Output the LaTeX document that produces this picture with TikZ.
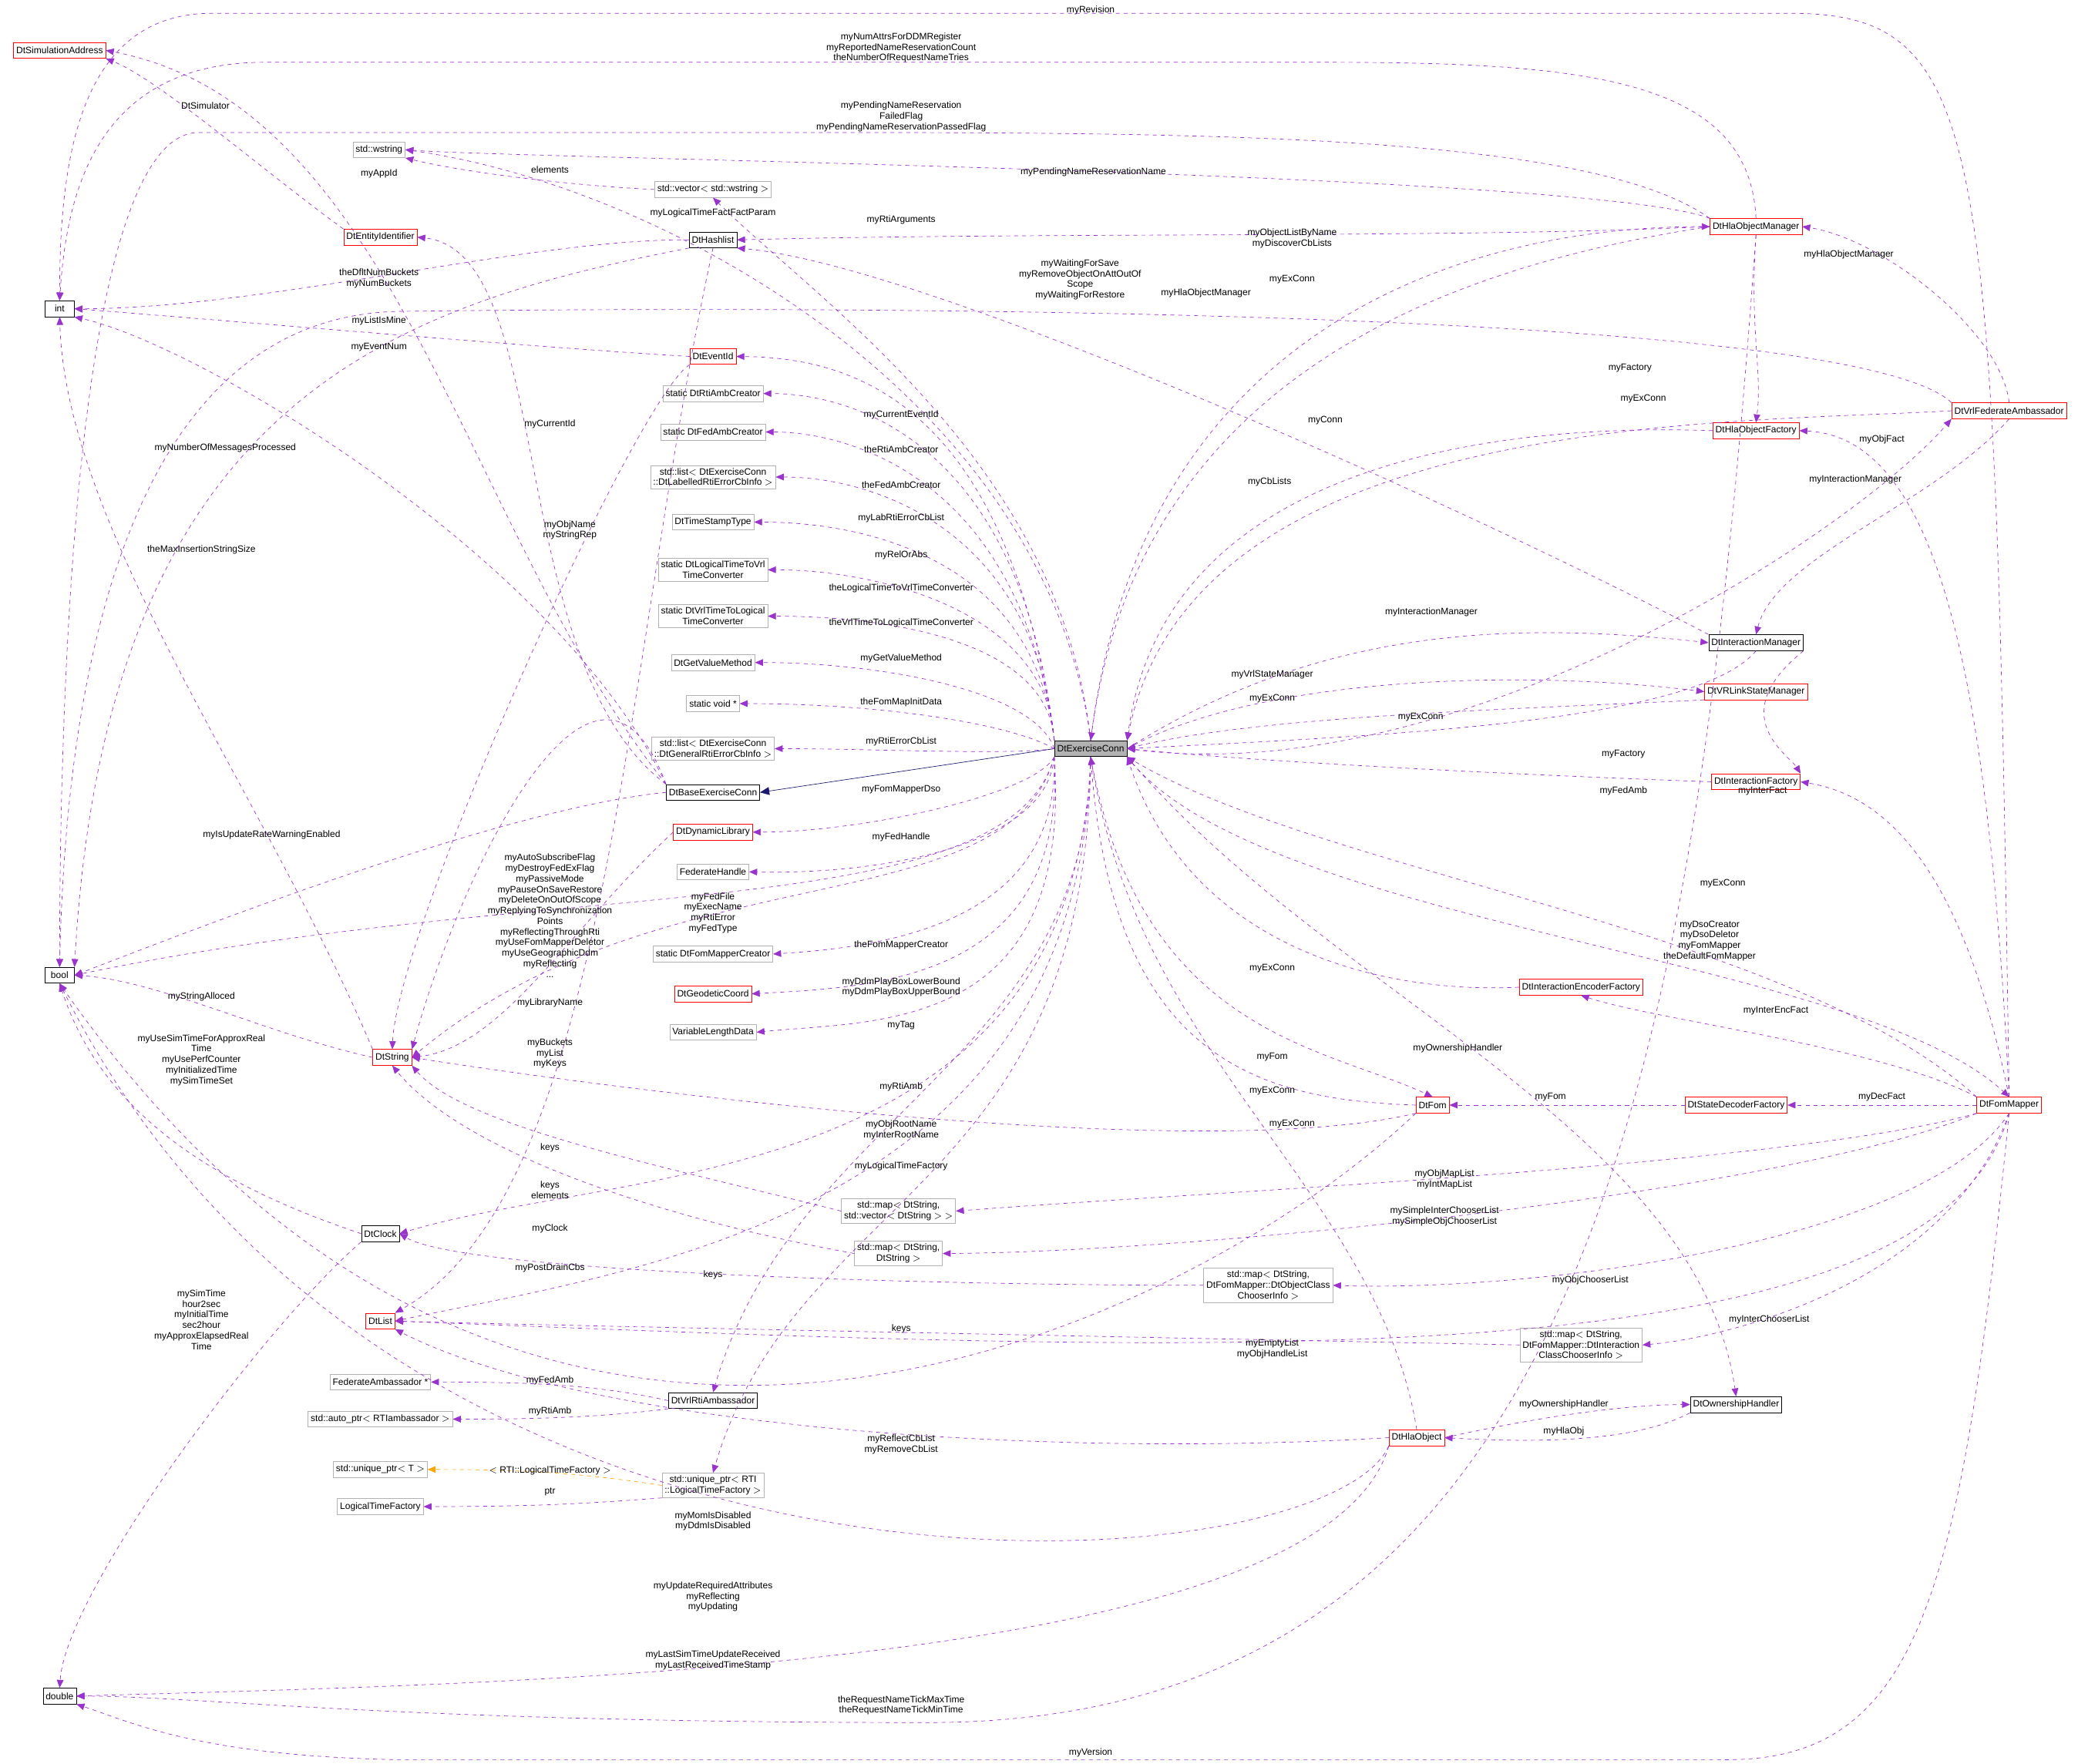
\documentclass[tikz,border=0pt]{standalone}
\usepackage{fontspec}
\setmainfont{Liberation Sans}
\usetikzlibrary{arrows.meta}
\definecolor{depc}{HTML}{9A32CD}
\definecolor{inhc}{HTML}{191970}
\definecolor{tplc}{HTML}{FFA500}
\newcommand{\dfont}{\fontsize{7}{8}\selectfont}
\begin{document}
\begin{tikzpicture}[x=1pt,y=-1pt,
  cls/.style={draw=black, inner sep=2pt, minimum height=12pt, font=\dfont, align=center, fill=white},
  redcls/.style={cls, draw=red},
  grycls/.style={cls, draw=gray!60},
  lbl/.style={font=\dfont, align=center, inner sep=0.5pt},
  use/.style={draw=depc, dashed, -{Triangle[length=6pt,width=5pt]}},
  inh/.style={draw=inhc, -{Triangle[length=7pt,width=6pt]}},
  tpl/.style={draw=tplc, dashed, -{Triangle[length=6pt,width=5pt]}}]
\useasboundingbox (0,0) rectangle (1568,1331);

% classes
\node[cls, fill=gray!60] (X) at (823,565) {DtExerciseConn};
\node[redcls] (simaddr) at (45,38) {DtSimulationAddress};
\node[grycls] (wstr) at (286,113) {std::wstring};
\node[grycls] (vec) at (538,143) {std::vector$<$ std::wstring $>$};
\node[redcls] (eid) at (287,179) {DtEntityIdentifier};
\node[cls] (hash) at (538,181) {DtHashlist};
\node[cls, minimum width=22pt] (int) at (45,233) {int};
\node[redcls] (evid) at (538,269) {DtEventId};
\node[grycls] (rac) at (538,297) {static DtRtiAmbCreator};
\node[grycls] (fac) at (538,326) {static DtFedAmbCreator};
\node[grycls] (llist) at (538,360) {std::list$<$ DtExerciseConn\\::DtLabelledRtiErrorCbInfo $>$};
\node[grycls] (tst) at (538,394) {DtTimeStampType};
\node[grycls] (l2v) at (538,430) {static DtLogicalTimeToVrl\\TimeConverter};
\node[grycls] (v2l) at (538,465) {static DtVrlTimeToLogical\\TimeConverter};
\node[grycls] (gvm) at (538,500) {DtGetValueMethod};
\node[grycls] (svoid) at (538,531) {static void *};
\node[grycls] (glist) at (538,565) {std::list$<$ DtExerciseConn\\::DtGeneralRtiErrorCbInfo $>$};
\node[cls] (bec) at (538,598) {DtBaseExerciseConn};
\node[redcls] (dyn) at (538,628) {DtDynamicLibrary};
\node[grycls] (fh) at (538,658) {FederateHandle};
\node[grycls] (fmc) at (538,720) {static DtFomMapperCreator};
\node[redcls] (geo) at (538,750) {DtGeodeticCoord};
\node[grycls] (vld) at (538,779) {VariableLengthData};
\node[redcls] (hom) at (1325,171) {DtHlaObjectManager};
\node[redcls] (vfa) at (1516,310) {DtVrlFederateAmbassador};
\node[redcls] (hof) at (1325,325) {DtHlaObjectFactory};
\node[cls] (im) at (1325,485) {DtInteractionManager};
\node[redcls] (vsm) at (1325,522) {DtVRLinkStateManager};
\node[redcls] (ifac) at (1325,590) {DtInteractionFactory};
\node[redcls] (ief) at (1193,745) {DtInteractionEncoderFactory};
\node[redcls] (fom) at (1081,834) {DtFom};
\node[redcls] (sdf) at (1310,834) {DtStateDecoderFactory};
\node[redcls] (fm) at (1516,834) {DtFomMapper};
\node[cls, minimum width=22pt] (bool) at (45,736) {bool};
\node[redcls] (str) at (296,798) {DtString};
\node[grycls] (mvec) at (678,914) {std::map$<$ DtString,\\std::vector$<$ DtString $>$ $>$};
\node[grycls] (mstr) at (678,946) {std::map$<$ DtString,\\DtString $>$};
\node[cls] (clk) at (287,931) {DtClock};
\node[grycls] (mobj) at (957,970) {std::map$<$ DtString,\\DtFomMapper::DtObjectClass\\ChooserInfo $>$};
\node[redcls] (lst) at (287,997) {DtList};
\node[grycls] (mint) at (1193,1015) {std::map$<$ DtString,\\DtFomMapper::DtInteraction\\ClassChooserInfo $>$};
\node[grycls] (fedamb) at (287,1043) {FederateAmbassador *};
\node[cls] (vra) at (538,1057) {DtVrlRtiAmbassador};
\node[grycls] (apt) at (287,1071) {std::auto\_ptr$<$ RTIambassador $>$};
\node[cls] (own) at (1310,1060) {DtOwnershipHandler};
\node[redcls] (hlo) at (1069,1085) {DtHlaObject};
\node[grycls] (upt) at (287,1109) {std::unique\_ptr$<$ T $>$};
\node[grycls] (uprti) at (538,1121) {std::unique\_ptr$<$ RTI\\::LogicalTimeFactory $>$};
\node[grycls] (ltf) at (287,1137) {LogicalTimeFactory};
\node[cls] (dbl) at (45,1280) {double};

% inheritance
\draw[inh] (X.west) -- (bec.east);

% DtExerciseConn towards the left column
\draw[use] (X.north west) .. controls (760,300) and (640,270) .. (evid.east);
\draw[use] (X.north west) .. controls (770,330) and (640,297) .. (rac.east);
\draw[use] (X.north west) .. controls (770,360) and (640,326) .. (fac.east);
\draw[use] (X.north west) .. controls (780,400) and (660,360) .. (llist.east);
\draw[use] (X.north west) .. controls (780,420) and (650,394) .. (tst.east);
\draw[use] (X.north west) .. controls (790,460) and (660,430) .. (l2v.east);
\draw[use] (X.north west) .. controls (790,480) and (660,465) .. (v2l.east);
\draw[use] (X.west) .. controls (780,520) and (660,500) .. (gvm.east);
\draw[use] (X.west) .. controls (760,545) and (660,531) .. (svoid.east);
\draw[use] (X.west) .. controls (760,570) and (660,565) .. (glist.east);
\draw[use] (X.south west) .. controls (780,600) and (650,628) .. (dyn.east);
\draw[use] (X.south west) .. controls (790,640) and (660,660) .. (fh.east);
\draw[use] (X.south west) .. controls (800,700) and (660,715) .. (fmc.east);
\draw[use] (X.south west) .. controls (805,740) and (660,745) .. (geo.east);
\draw[use] (X.south west) .. controls (810,780) and (660,770) .. (vld.east);
\draw[use] (X.north) .. controls (800,350) and (620,230) .. (vec.south);
\draw[use] (X.north) .. controls (790,300) and (500,140) .. (wstr.east);
\draw[use] (X.south west) .. controls (760,700) and (500,640) .. (str.east);
\draw[use] (X.south west) .. controls (760,700) and (420,660) .. (bool.east);
\draw[use] (X.south) .. controls (810,900) and (470,880) .. (clk.east);
\draw[use] (X.south) .. controls (815,920) and (470,960) .. (lst.east);
\draw[use] (X.south) .. controls (820,800) and (600,840) .. (vra.north);
\draw[use] (X.south) .. controls (820,900) and (600,900) .. (uprti.north);

% DtExerciseConn and the right side
\draw[use] (X.north) .. controls (860,250) and (1100,171) .. (hom.west);
\draw[use] (hom.west) .. controls (1100,200) and (860,280) .. (X.north);
\draw[use] (hof.west) .. controls (1150,320) and (880,340) .. (X.north east);
\draw[use] (vfa.west) .. controls (1300,320) and (900,310) .. (X.north east);
\draw[use] (X.east) .. controls (1000,470) and (1150,470) .. (im.west);
\draw[use] (X.east) .. controls (950,510) and (1150,505) .. (vsm.west);
\draw[use] (vsm.south west) .. controls (1150,535) and (950,540) .. (X.east);
\draw[use] (im.south) .. controls (1280,545) and (1050,555) .. (X.east);
\draw[use] (ifac.west) .. controls (1150,585) and (950,575) .. (X.east);
\draw[use] (X.east) .. controls (1100,600) and (1400,400) .. (vfa.south west);
\draw[use] (fm.north west) .. controls (1350,700) and (1000,660) .. (X.south east);
\draw[use] (X.south east) .. controls (950,700) and (1400,720) .. (fm.north);
\draw[use] (ief.west) .. controls (1050,750) and (900,720) .. (X.south east);
\draw[use] (X.south) .. controls (860,780) and (1000,790) .. (fom.north);
\draw[use] (fom.west) .. controls (950,830) and (840,800) .. (X.south);
\draw[use] (X.south east) .. controls (1000,750) and (1280,850) .. (own.north);
\draw[use] (hlo.north) .. controls (1040,900) and (860,800) .. (X.south);

% right side among themselves
\draw[use] (hom.south) .. controls (1320,250) and (1330,280) .. (hof.north);
\draw[use] (vfa.north) .. controls (1510,250) and (1420,180) .. (hom.east);
\draw[use] (vfa.south) .. controls (1460,380) and (1340,420) .. (im.north);
\draw[use] (fm.north) .. controls (1500,500) and (1460,330) .. (hof.east);
\draw[use] (im.south east) .. controls (1300,540) and (1350,570) .. (ifac.north east);
\draw[use] (fm.north) .. controls (1480,650) and (1420,600) .. (ifac.east);
\draw[use] (fm.north west) .. controls (1420,790) and (1250,770) .. (ief.south);
\draw[use] (fm.west) -- (sdf.east);
\draw[use] (sdf.west) -- (fom.east);
\draw[use] (hlo.east) .. controls (1180,1065) and (1240,1060) .. (own.west);
\draw[use] (own.south west) .. controls (1240,1085) and (1180,1090) .. (hlo.east);
\draw[use] (fm.south west) .. controls (1350,880) and (900,900) .. (mvec.east);
\draw[use] (fm.south west) .. controls (1350,900) and (900,945) .. (mstr.east);
\draw[use] (fm.south) .. controls (1450,940) and (1150,975) .. (mobj.east);
\draw[use] (fm.south) .. controls (1470,970) and (1300,1010) .. (mint.east);
\draw[use] (fm.south) .. controls (1460,1050) and (900,1020) .. (lst.east);

% into the left columns
\draw[use] (fm.north) .. controls (1505,100) and (1500,10) .. (1350,10) -- (160,10) .. controls (60,10) and (45,120) .. (int.north);
\draw[use] (hom.north) .. controls (1320,60) and (1200,47) .. (1000,47) -- (200,47) .. controls (70,47) and (50,150) .. (int.north);
\draw[use] (hom.north west) .. controls (1200,100) and (900,100) .. (600,100) -- (150,100) .. controls (60,100) and (45,500) .. (bool.north);
\draw[use] (hom.north west) .. controls (1200,130) and (400,120) .. (wstr.east);
\draw[use] (hom.west) .. controls (1100,180) and (800,175) .. (hash.east);
\draw[use] (vfa.north west) .. controls (1400,235) and (700,230) .. (300,235) .. controls (100,240) and (50,500) .. (bool.north);
\draw[use] (im.north west) .. controls (1100,380) and (700,200) .. (hash.south east);
\draw[use] (vec.west) .. controls (430,140) and (350,130) .. (wstr.south east);
\draw[use] (hash.west) .. controls (400,180) and (200,233) .. (int.east);
\draw[use] (hash.south west) .. controls (300,230) and (80,300) .. (bool.north east);
\draw[use] (evid.west) .. controls (400,262) and (150,240) .. (int.east);
\draw[use] (evid.south west) .. controls (480,300) and (300,700) .. (str.north);
\draw[use] (eid.north west) .. controls (200,130) and (120,60) .. (simaddr.south east);
\draw[use] (bec.north west) .. controls (350,400) and (300,80) .. (simaddr.east);
\draw[use] (bec.north west) .. controls (380,500) and (420,190) .. (eid.east);
\draw[use] (bec.north west) .. controls (420,420) and (150,260) .. (int.south east);
\draw[use] (bec.north west) .. controls (450,450) and (350,650) .. (str.north east);
\draw[use] (bec.west) .. controls (380,610) and (150,700) .. (bool.east);
\draw[use] (dyn.west) .. controls (430,700) and (380,790) .. (str.east);
\draw[use] (hash.south) .. controls (470,500) and (460,900) .. (lst.north east);
\draw[use] (str.west) .. controls (200,780) and (120,740) .. (bool.east);
\draw[use] (str.north west) .. controls (200,600) and (50,400) .. (int.south);
\draw[use] (fom.south west) .. controls (900,880) and (450,820) .. (str.east);
\draw[use] (mvec.west) .. controls (500,880) and (350,850) .. (str.south east);
\draw[use] (mstr.west) .. controls (500,920) and (350,870) .. (str.south);
\draw[use] (mobj.west) .. controls (700,970) and (350,960) .. (clk.east);
\draw[use] (mint.west) .. controls (900,1010) and (400,1000) .. (lst.east);
\draw[use] (clk.west) .. controls (180,900) and (80,850) .. (bool.south);
\draw[use] (clk.south west) .. controls (200,1000) and (50,1200) .. (dbl.north);
\draw[use] (fom.south west) .. controls (900,1000) and (400,1250) .. (bool.south);
\draw[use] (hlo.south west) .. controls (1000,1200) and (300,1250) .. (bool.south);
\draw[use] (hlo.south west) .. controls (1000,1260) and (400,1270) .. (dbl.east);
\draw[use] (hom.south) .. controls (1280,800) and (1200,1300) .. (700,1300) .. controls (300,1300) and (150,1280) .. (dbl.east);
\draw[use] (fm.south) .. controls (1480,1200) and (1450,1330) .. (1300,1328) -- (300,1328) .. controls (150,1325) and (100,1300) .. (dbl.south east);
\draw[use] (hlo.west) .. controls (800,1100) and (450,1080) .. (lst.south east);
\draw[use] (vra.west) .. controls (450,1045) and (400,1043) .. (fedamb.east);
\draw[use] (vra.south west) .. controls (450,1070) and (400,1071) .. (apt.east);
\draw[tpl] (uprti.west) .. controls (440,1112) and (400,1109) .. (upt.east);
\draw[use] (uprti.south west) .. controls (440,1135) and (400,1137) .. (ltf.east);

% labels
\node[lbl] (l01) at (823,8) {myRevision};
\node[lbl] (l02) at (680,36) {myNumAttrsForDDMRegister\\myReportedNameReservationCount\\theNumberOfRequestNameTries};
\node[lbl] (l03) at (680,88) {myPendingNameReservation\\FailedFlag\\myPendingNameReservationPassedFlag};
\node[lbl] (l04) at (825,130) {myPendingNameReservationName};
\node[lbl] (l05) at (155,80) {DtSimulator};
\node[lbl] (l06) at (286,131) {myAppId};
\node[lbl] (l07) at (415,128) {elements};
\node[lbl] (l08) at (538,161) {myLogicalTimeFactFactParam};
\node[lbl] (l09) at (680,166) {myRtiArguments};
\node[lbl] (l10) at (975,180) {myObjectListByName\\myDiscoverCbLists};
\node[lbl] (l11) at (815,211) {myWaitingForSave\\myRemoveObjectOnAttOutOf\\Scope\\myWaitingForRestore};
\node[lbl] (l12) at (975,211) {myExConn};
\node[lbl] (l13) at (910,221) {myHlaObjectManager};
\node[lbl] (l14) at (1395,192) {myHlaObjectManager};
\node[lbl] (l15) at (286,210) {theDfltNumBuckets\\myNumBuckets};
\node[lbl] (l16) at (286,242) {myListIsMine};
\node[lbl] (l17) at (286,262) {myEventNum};
\node[lbl] (l18) at (1230,278) {myFactory};
\node[lbl] (l19) at (1240,301) {myExConn};
\node[lbl] (l20) at (1000,317) {myConn};
\node[lbl] (l21) at (1420,332) {myObjFact};
\node[lbl] (l22) at (415,320) {myCurrentId};
\node[lbl] (l23) at (680,313) {myCurrentEventId};
\node[lbl] (l24) at (680,339) {theRtiAmbCreator};
\node[lbl] (l25) at (680,366) {theFedAmbCreator};
\node[lbl] (l26) at (680,391) {myLabRtiErrorCbList};
\node[lbl] (l27) at (680,419) {myRelOrAbs};
\node[lbl] (l28) at (680,444) {theLogicalTimeToVrlTimeConverter};
\node[lbl] (l29) at (680,470) {theVrlTimeToLogicalTimeConverter};
\node[lbl] (l30) at (680,497) {myGetValueMethod};
\node[lbl] (l31) at (680,530) {theFomMapInitData};
\node[lbl] (l32) at (680,560) {myRtiErrorCbList};
\node[lbl] (l33) at (680,596) {myFomMapperDso};
\node[lbl] (l34) at (680,632) {myFedHandle};
\node[lbl] (l35) at (170,338) {myNumberOfMessagesProcessed};
\node[lbl] (l36) at (958,364) {myCbLists};
\node[lbl] (l37) at (1400,362) {myInteractionManager};
\node[lbl] (l38) at (430,400) {myObjName\\myStringRep};
\node[lbl] (l39) at (152,415) {theMaxInsertionStringSize};
\node[lbl] (l40) at (1080,462) {myInteractionManager};
\node[lbl] (l41) at (960,509) {myVrlStateManager};
\node[lbl] (l42) at (960,527) {myExConn};
\node[lbl] (l43) at (1072,541) {myExConn};
\node[lbl] (l44) at (1225,569) {myFactory};
\node[lbl] (l45) at (1225,597) {myFedAmb};
\node[lbl] (l46) at (1330,597) {myInterFact};
\node[lbl] (l47) at (205,630) {myIsUpdateRateWarningEnabled};
\node[lbl] (l48) at (415,691) {myAutoSubscribeFlag\\myDestroyFedExFlag\\myPassiveMode\\myPauseOnSaveRestore\\myDeleteOnOutOfScope\\myReplyingToSynchronization\\Points\\myReflectingThroughRti\\myUseFomMapperDeletor\\myUseGeographicDdm\\myReflecting\\...};
\node[lbl] (l49) at (538,689) {myFedFile\\myExecName\\myRtiError\\myFedType};
\node[lbl] (l50) at (680,713) {theFomMapperCreator};
\node[lbl] (l51) at (680,745) {myDdmPlayBoxLowerBound\\myDdmPlayBoxUpperBound};
\node[lbl] (l52) at (680,774) {myTag};
\node[lbl] (l53) at (1300,667) {myExConn};
\node[lbl] (l54) at (1290,710) {myDsoCreator\\myDsoDeletor\\myFomMapper\\theDefaultFomMapper};
\node[lbl] (l55) at (960,731) {myExConn};
\node[lbl] (l56) at (1340,763) {myInterEncFact};
\node[lbl] (l57) at (152,752) {myStringAlloced};
\node[lbl] (l58) at (415,757) {myLibraryName};
\node[lbl] (l59) at (415,795) {myBuckets\\myList\\myKeys};
\node[lbl] (l60) at (152,800) {myUseSimTimeForApproxReal\\Time\\myUsePerfCounter\\myInitializedTime\\mySimTimeSet};
\node[lbl] (l61) at (680,820) {myRtiAmb};
\node[lbl] (l62) at (1100,791) {myOwnershipHandler};
\node[lbl] (l63) at (960,798) {myFom};
\node[lbl] (l64) at (960,823) {myExConn};
\node[lbl] (l65) at (1170,828) {myFom};
\node[lbl] (l66) at (1420,828) {myDecFact};
\node[lbl] (l67) at (975,848) {myExConn};
\node[lbl] (l68) at (680,853) {myObjRootName\\myInterRootName};
\node[lbl] (l69) at (415,866) {keys};
\node[lbl] (l70) at (680,880) {myLogicalTimeFactory};
\node[lbl] (l71) at (1090,890) {myObjMapList\\myIntMapList};
\node[lbl] (l72) at (415,898) {keys\\elements};
\node[lbl] (l73) at (1090,918) {mySimpleInterChooserList\\mySimpleObjChooserList};
\node[lbl] (l74) at (415,927) {myClock};
\node[lbl] (l75) at (415,957) {myPostDrainCbs};
\node[lbl] (l76) at (538,962) {keys};
\node[lbl] (l77) at (1200,966) {myObjChooserList};
\node[lbl] (l78) at (1335,996) {myInterChooserList};
\node[lbl] (l79) at (152,996) {mySimTime\\hour2sec\\myInitialTime\\sec2hour\\myApproxElapsedReal\\Time};
\node[lbl] (l80) at (680,1003) {keys};
\node[lbl] (l81) at (960,1018) {myEmptyList\\myObjHandleList};
\node[lbl] (l82) at (415,1042) {myFedAmb};
\node[lbl] (l83) at (415,1065) {myRtiAmb};
\node[lbl] (l84) at (1180,1060) {myOwnershipHandler};
\node[lbl] (l85) at (1180,1080) {myHlaObj};
\node[lbl] (l86) at (680,1090) {myReflectCbList\\myRemoveCbList};
\node[lbl] (l87) at (415,1110) {$<$ RTI::LogicalTimeFactory $>$};
\node[lbl] (l88) at (415,1126) {ptr};
\node[lbl] (l89) at (538,1148) {myMomIsDisabled\\myDdmIsDisabled};
\node[lbl] (l90) at (538,1205) {myUpdateRequiredAttributes\\myReflecting\\myUpdating};
\node[lbl] (l91) at (538,1253) {myLastSimTimeUpdateReceived\\myLastReceivedTimeStamp};
\node[lbl] (l92) at (680,1287) {theRequestNameTickMaxTime\\theRequestNameTickMinTime};
\node[lbl] (l93) at (823,1323) {myVersion};
\end{tikzpicture}
\end{document}
